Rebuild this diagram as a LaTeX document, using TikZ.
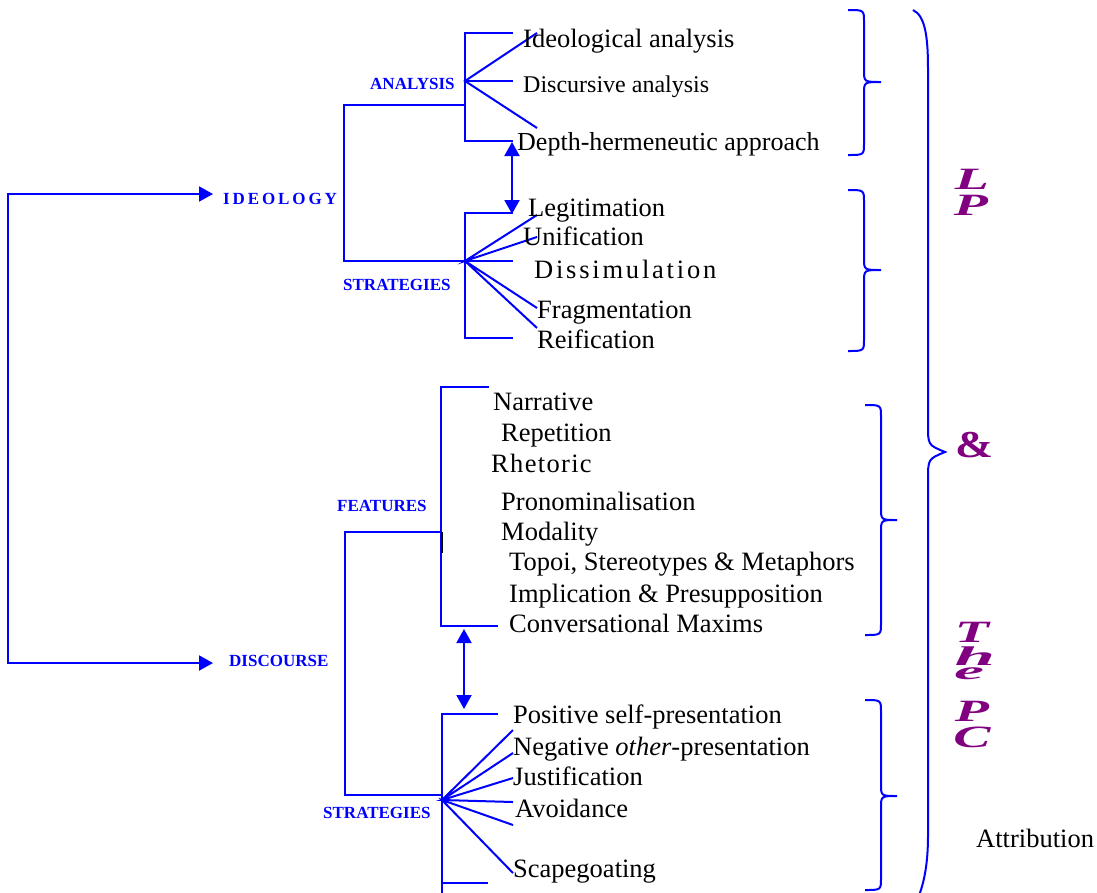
\documentclass[tikz,border=0pt]{standalone}
\usepackage{fontspec}
\setmainfont{Liberation Serif}[
  ItalicFont={Liberation Serif Italic},
  BoldFont={Liberation Serif Bold},
  BoldItalicFont={Liberation Serif Bold Italic}]
\usetikzlibrary{arrows.meta}
\definecolor{ink}{RGB}{0,0,255}
\definecolor{plum}{RGB}{128,0,128}
\begin{document}
\begin{tikzpicture}[x=1pt,y=-1pt]
\tikzset{
  ln/.style={ink, line width=2pt},
  arr/.style={ln, -{Triangle[length=14pt,width=15pt]}},
  darr/.style={ln, {Triangle[length=14pt,width=15pt]}-{Triangle[length=14pt,width=15pt]}},
  lbl/.style={ink, inner sep=0pt, anchor=base west, font=\bfseries\fontsize{17}{20}\selectfont},
  itm/.style={inner sep=0pt, anchor=base west, font=\fontsize{26.5}{30}\selectfont},
  scr/.style={plum, inner sep=0pt, font=\bfseries\itshape\fontsize{31}{31}\selectfont, xscale=1.8},
}
\useasboundingbox (0,0) rectangle (1097,892);

% ---------- root and the two main branches ----------
\coordinate (rootT) at (8,194);
\coordinate (rootB) at (8,663);
\coordinate (ideoTip) at (213,194);
\coordinate (discTip) at (213,663);
\node[lbl] (ideo) at (223,204) {\addfontfeature{LetterSpace=17}IDEOLOGY};
\node[lbl] (disc) at (229,666) {DISCOURSE};
\draw[arr] (rootB) -- (rootT) -- (ideoTip);
\draw[arr] (rootT) -- (rootB) -- (discTip);

% ---------- ideology: analysis ----------
\node[lbl] (ana) at (370,89) {ANALYSIS};
\node[lbl] (ist) at (343,290) {STRATEGIES};
\coordinate (aT) at (465,33);
\coordinate (aB) at (465,141);
\coordinate (aC) at (465,81);
\coordinate (iJ) at (465,105);
\coordinate (sT) at (465,213);
\coordinate (sB) at (465,338);
\coordinate (sC) at (465,261);
\draw[ln] (iJ) -| (344,261) -- (sC);
\draw[ln] (513,33) -- (aT) -- (aB) -- (513,141);
\draw[ln] (537,33) -- (aC) -- (537,128);
\draw[ln] (aC) -- (513,81);

\node[itm] (ideol) at (523,47) {Ideological analysis};
\node[itm, font=\fontsize{24}{28}\selectfont] (discan) at (523,92) {Discursive analysis};
\node[itm, font=\fontsize{26}{30}\selectfont] (depth) at (517,150) {Depth-hermeneutic approach};

% ---------- ideology: strategies ----------
\draw[ln] (513,213) -- (sT) -- (sB) -- (513,338);
\draw[ln] (537,215) -- (sC) -- (537,237);
\draw[ln] (sC) -- (513,261);
\draw[ln] (537,308) -- (sC) -- (537,328);
\coordinate (dA) at (512,142);
\coordinate (dB) at (512,214);
\draw[darr] (dA) -- (dB);

\node[itm] (legit) at (528,216) {Legitimation};
\node[itm] (unif) at (523,245) {Unification};
\node[itm] (dissim) at (534,278) {\addfontfeature{LetterSpace=10.5}Dissimulation};
\node[itm] (frag) at (537,318) {Fragmentation};
\node[itm] (reif) at (537,348) {Reification};

% ---------- discourse: features ----------
\node[lbl] (feat) at (337,511) {FEATURES};
\node[lbl] (dst) at (323,818) {STRATEGIES};
\coordinate (fJ) at (441,532);
\coordinate (gJ) at (442,795);
\coordinate (gC) at (442,800);
\draw[ln] (489,387) -- (441,387) -- (441,626) -- (498,626);
\draw[ln] (fJ) -| (345,795) -- (gJ);
\draw[black, line width=1.5pt] (442,532) -- (442,553);

\node[itm] (narr) at (493,410) {Narrative};
\node[itm] (rep) at (501,441) {Repetition};
\node[itm] (rhet) at (491,472) {\addfontfeature{LetterSpace=5}Rhetoric};
\node[itm] (pron) at (501,510) {Pronominalisation};
\node[itm] (moda) at (501,540) {Modality};
\node[itm] (topoi) at (509,570) {Topoi, Stereotypes \& Metaphors};
\node[itm] (impl) at (509,602) {Implication \& Presupposition};
\node[itm] (conv) at (509,632) {Conversational Maxims};

% ---------- discourse: strategies ----------
\draw[ln] (498,714) -- (442,714) -- (442,905);
\draw[ln] (442,883) -- (488,883);
\draw[ln] (513,730) -- (gC) -- (513,753);
\draw[ln] (513,778) -- (gC) -- (513,802);
\draw[ln] (513,825) -- (gC) -- (513,873);
\coordinate (eA) at (464,629);
\coordinate (eB) at (464,709);
\draw[darr] (eA) -- (eB);

\node[itm] (pos) at (513,723) {Positive self-presentation};
\node[itm] (neg) at (513,755) {Negative \textit{other}-presentation};
\node[itm] (just) at (513,785) {Justification};
\node[itm] (avoid) at (515,817) {Avoidance};
\node[itm] (scape) at (513,877) {Scapegoating};
\node[itm] (attr) at (976,847) {Attribution};

% ---------- braces ----------
\draw[ln] (848,10) .. controls (864,10) .. (864,22) -- (864,70)
  .. controls (864,82) .. (881,82) .. controls (864,82) .. (864,94)
  -- (864,143) .. controls (864,155) .. (848,155);
\draw[ln] (848,190) .. controls (864,190) .. (864,202) -- (864,258)
  .. controls (864,270) .. (881,270) .. controls (864,270) .. (864,282)
  -- (864,339) .. controls (864,351) .. (848,351);
\draw[ln] (865,405) .. controls (881,405) .. (881,417) -- (881,508)
  .. controls (881,520) .. (897,520) .. controls (881,520) .. (881,532)
  -- (881,623) .. controls (881,635) .. (865,635);
\draw[ln] (865,700) .. controls (881,700) .. (881,712) -- (881,784)
  .. controls (881,796) .. (897,796) .. controls (881,796) .. (881,808)
  -- (881,878) .. controls (881,890) .. (865,890);
\draw[ln] (913,10) .. controls (926,16) and (928,40) .. (928,70) -- (928,425)
  .. controls (928,445) .. (945,452) .. controls (928,459) .. (928,480)
  -- (928,835) .. controls (928,868) and (923,888) .. (915,905);

% ---------- stacked letters ----------
\node[scr] (lL) at (972,179) {L};
\node[scr] (lP) at (971,205) {P};
\node[plum, inner sep=0pt, font=\bfseries\fontsize{38}{38}\selectfont, xscale=1.2] (amp) at (974,445) {\&};
\node[scr] (tT) at (972,632) {T};
\node[scr, font=\bfseries\itshape\fontsize{27}{27}\selectfont, xscale=1.5] (th) at (975,656) {h};
\node[scr, font=\bfseries\itshape\fontsize{25}{25}\selectfont, xscale=1.5] (te) at (969,674) {e};
\node[scr] (pP) at (972,711) {P};
\node[scr] (pC) at (972,737) {C};
\end{tikzpicture}
\end{document}
